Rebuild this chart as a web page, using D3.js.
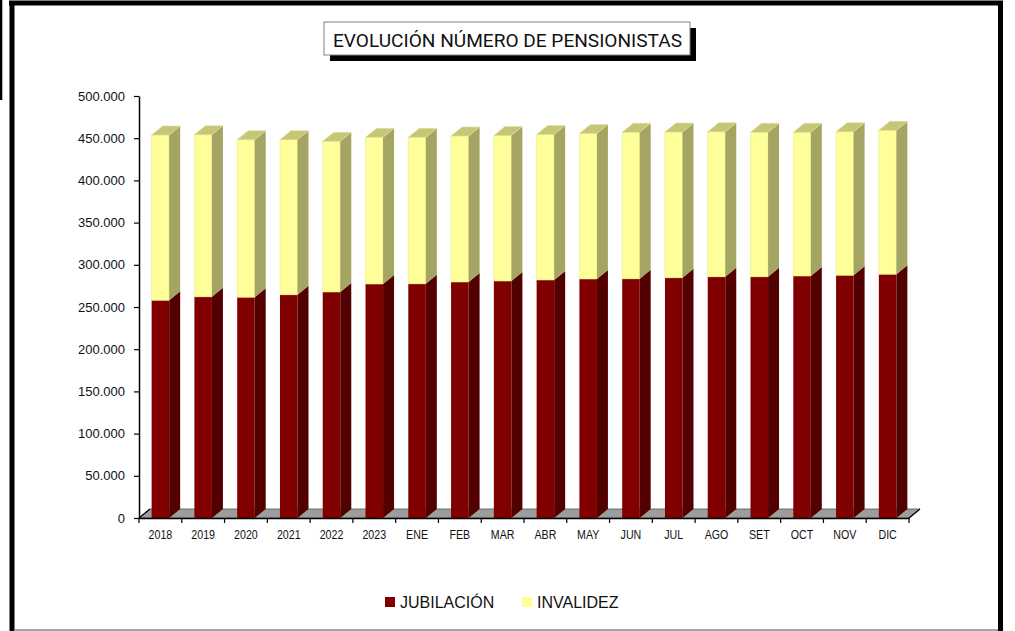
<!DOCTYPE html>
<html>
<head>
<meta charset="utf-8">
<script src="https://cdn.jsdelivr.net/npm/d3@7"></script>
<style>
  html, body { margin: 0; padding: 0; background: #fff; }
  svg { display: block; }
</style>
</head>
<body>
<svg id="chart" width="1015" height="631"></svg>
<script>
const categories = ["2018","2019","2020","2021","2022","2023","ENE","FEB","MAR","ABR","MAY","JUN","JUL","AGO","SET","OCT","NOV","DIC"];
const jubilacion = [257900,262200,261500,264600,267800,277200,277500,279600,280800,282000,283200,283500,284700,285900,285900,286700,287500,288700];
const invalidez  = [195900,192000,186800,183700,178500,173800,173500,173000,172400,172400,172400,173500,172600,171800,171100,170300,170200,170600];
const yTicks = [0,50000,100000,150000,200000,250000,300000,350000,400000,450000,500000];
const seriesNames = ["JUBILACIÓN","INVALIDEZ"];
const titleText = "EVOLUCIÓN NÚMERO DE PENSIONISTAS";

const svg = d3.select("#chart");
const W = 1015, H = 631;

// frame
svg.append("rect").attr("x",0).attr("y",0).attr("width",2.3).attr("height",100).attr("fill","#000");
svg.append("line").attr("x1",9).attr("x2",1003).attr("y1",3).attr("y2",3).attr("stroke","#000").attr("stroke-width",5);
svg.append("line").attr("x1",12).attr("x2",12).attr("y1",1).attr("y2",H).attr("stroke","#000").attr("stroke-width",5);
svg.append("line").attr("x1",1000.5).attr("x2",1000.5).attr("y1",1).attr("y2",H).attr("stroke","#000").attr("stroke-width",5);
svg.append("line").attr("x1",14).attr("x2",998).attr("y1",630).attr("y2",630).attr("stroke","#888").attr("stroke-width",1.5);

// title
svg.append("rect").attr("x",330).attr("y",28).attr("width",366).attr("height",33).attr("fill","#000");
svg.append("rect").attr("x",324).attr("y",22).attr("width",366).attr("height",33).attr("fill","#fff").attr("stroke","#808080").attr("stroke-width",1);
svg.append("text").attr("x",333).attr("y",46.5)
  .attr("font-family","Roboto, 'Liberation Sans', sans-serif").attr("font-size",19)
  .attr("fill","#111").attr("textLength",349).attr("lengthAdjust","spacingAndGlyphs")
  .text(titleText);

// scales
const x = d3.scaleBand().domain(categories).range([139,909]).paddingInner(0).paddingOuter(0);
const y = d3.scaleLinear().domain([0,500000]).range([518,96]);
const DX = 11, DY = -9;
const bw = x.bandwidth()*0.41;

// floor
const x0 = x.range()[0], x1 = x.range()[1], y0 = y(0);
svg.append("path")
  .attr("d",`M${x0},${y0}L${x1},${y0}L${x1+DX},${y0+DY}L${x0+DX},${y0+DY}Z`)
  .attr("fill","#9d9d9d").attr("stroke","#555").attr("stroke-width",0.8);
svg.append("line").attr("x1",x1).attr("y1",y0).attr("x2",x1+DX).attr("y2",y0+DY).attr("stroke","#000").attr("stroke-width",1.2);
svg.append("line").attr("x1",x0).attr("y1",y0).attr("x2",x0+DX).attr("y2",y0+DY).attr("stroke","#000").attr("stroke-width",1.2);

// bars
const colors = {
  jub: {front:"#800000", side:"#520000", top:"#a03030"},
  inv: {front:"#ffff99", side:"#a5a563", top:"#c6c676"}
};
const data = categories.map((c,i)=>({c, j:jubilacion[i], v:invalidez[i]}));
const g = svg.append("g");
const bars = g.selectAll("g.bar").data(data).join("g").attr("class","bar");
function face(sel, cls, fn, fill, stroke){
  sel.append("path").attr("class",cls).attr("d",fn).attr("fill",fill)
    .attr("stroke",stroke||"none").attr("stroke-width",0.6);
}
const L = d => x(d.c)+x.bandwidth()/2-bw/2;
const R = d => x(d.c)+x.bandwidth()/2+bw/2;
// jubilacion
face(bars,"jf",d=>`M${L(d)},${y(0)}L${R(d)},${y(0)}L${R(d)},${y(d.j)}L${L(d)},${y(d.j)}Z`, colors.jub.front);
face(bars,"js",d=>`M${R(d)},${y(0)}L${R(d)+DX},${y(0)+DY}L${R(d)+DX},${y(d.j)+DY}L${R(d)},${y(d.j)}Z`, colors.jub.side);
// invalidez
face(bars,"if",d=>`M${L(d)},${y(d.j)}L${R(d)},${y(d.j)}L${R(d)},${y(d.j+d.v)}L${L(d)},${y(d.j+d.v)}Z`, colors.inv.front, "#e9e98c");
face(bars,"is",d=>`M${R(d)},${y(d.j)}L${R(d)+DX},${y(d.j)+DY}L${R(d)+DX},${y(d.j+d.v)+DY}L${R(d)},${y(d.j+d.v)}Z`, colors.inv.side);
face(bars,"it",d=>`M${L(d)},${y(d.j+d.v)}L${R(d)},${y(d.j+d.v)}L${R(d)+DX},${y(d.j+d.v)+DY}L${L(d)+DX},${y(d.j+d.v)+DY}Z`, colors.inv.top, "#e0e0a0");

// y axis
const loc = d3.formatLocale({decimal:",", thousands:".", grouping:[3], currency:["",""]});
const yAxis = d3.axisLeft(y).tickValues(yTicks).tickFormat(loc.format(",d")).tickSize(5).tickSizeOuter(0).tickPadding(9);
const ya = svg.append("g").attr("transform",`translate(${x0},0)`).call(yAxis);
ya.selectAll("text").attr("font-family","'Liberation Sans', Arial, sans-serif").attr("font-size",13).attr("fill","#111");
ya.select(".domain").attr("stroke","#000").attr("stroke-width",1.5);
ya.selectAll(".tick line").attr("stroke","#000").attr("stroke-width",1.2);

// x axis
const xAxis = d3.axisBottom(x).tickSize(0).tickSizeOuter(0).tickPadding(12);
const xa = svg.append("g").attr("transform",`translate(0,${y0})`).call(xAxis);
xa.select(".domain").attr("stroke","#000").attr("stroke-width",1.5);
xa.selectAll("text").attr("font-family","'Liberation Sans', Arial, sans-serif").attr("font-size",13).attr("fill","#111")
  .attr("transform","scale(0.82,1)");
const bounds = categories.map(c=>x(c)).concat([x1]);
xa.selectAll("line.bound").data(bounds).join("line").attr("class","bound")
  .attr("x1",d=>d).attr("x2",d=>d).attr("y1",0).attr("y2",5).attr("stroke","#000").attr("stroke-width",1.2);

// legend
const legendItems = [
  {name: seriesNames[0], color: colors.jub.front, x: 385},
  {name: seriesNames[1], color: colors.inv.front, x: 522}
];
const lg = svg.append("g").selectAll("g").data(legendItems).join("g");
lg.append("rect").attr("x",d=>d.x).attr("y",597).attr("width",10).attr("height",10).attr("fill",d=>d.color);
lg.append("text").attr("x",d=>d.x+15).attr("y",607.5)
  .attr("font-family","'Liberation Sans', Arial, sans-serif").attr("font-size",16).attr("fill","#111")
  .text(d=>d.name);
</script>
</body>
</html>
